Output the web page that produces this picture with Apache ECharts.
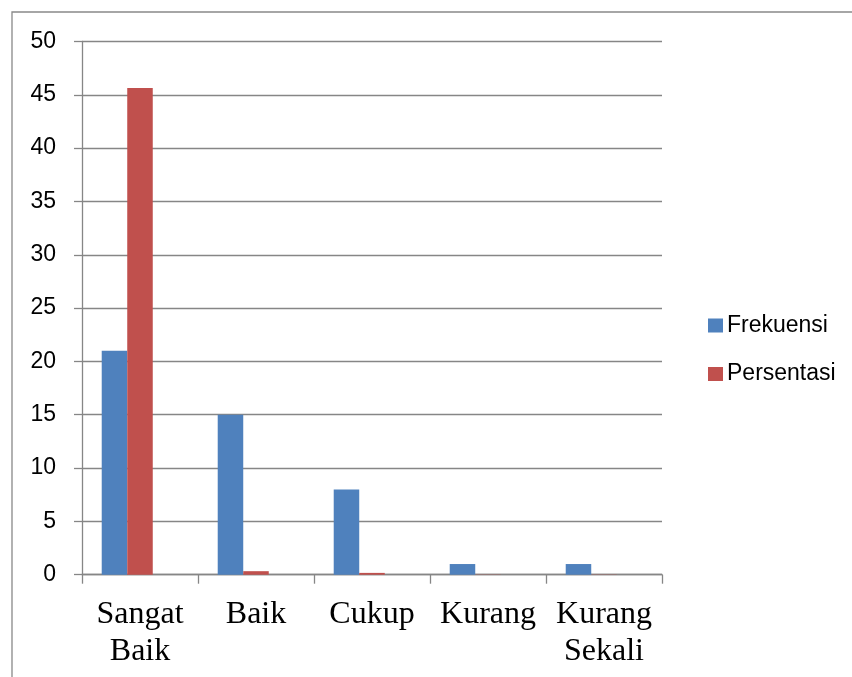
<!DOCTYPE html>
<html>
<head>
<meta charset="utf-8">
<script src="https://cdn.jsdelivr.net/npm/echarts@6/dist/echarts.min.js"></script>
<style>
html,body{margin:0;padding:0;background:#fff;}
#chart{width:852px;height:677px;}
</style>
</head>
<body>
<div id="chart"></div>
<script>
const categories = ["Sangat\nBaik", "Baik", "Cukup", "Kurang", "Kurang\nSekali"];
const frekuensi = [21, 15, 8, 1, 1];
const persentasi = [45.65, 0.33, 0.17, 0.02, 0.02];
const emptySeries = [null, null, null, null, null];
const seriesNames = ["Frekuensi", "Persentasi"];
const yMin = 0, yMax = 50, yInterval = 5;

const chart = echarts.init(document.getElementById('chart'), null, {renderer: 'canvas'});
const axisColor = '#868686';
chart.setOption({
  animation: false,
  backgroundColor: '#ffffff',
  graphic: [{
    type: 'rect', silent: true,
    shape: {x: 12, y: 12, width: 900, height: 720},
    style: {fill: 'none', stroke: '#898989', lineWidth: 1.3}
  }],
  grid: {left: 82, right: 190, top: 41.5, bottom: 102.3, containLabel: false},
  legend: {
    orient: 'vertical', left: 703, top: 309,
    itemWidth: 15, itemHeight: 14, itemGap: 25.5,
    icon: 'rect',
    data: seriesNames,
    textStyle: {fontFamily: 'Liberation Sans', fontSize: 23, color: '#000', padding: [0, 0, 0, -1]}
  },
  xAxis: {
    type: 'category', data: categories,
    axisLine: {show: true, lineStyle: {color: axisColor, width: 1.3}},
    axisTick: {show: true, length: 9, alignWithLabel: false, lineStyle: {color: axisColor, width: 1.3}},
    axisLabel: {fontFamily: 'Liberation Serif', fontSize: 32, lineHeight: 37, color: '#000', margin: 21, interval: 0}
  },
  yAxis: {
    type: 'value', min: yMin, max: yMax, interval: yInterval,
    axisLine: {show: true, lineStyle: {color: axisColor, width: 1.3}},
    axisTick: {show: true, length: 8, lineStyle: {color: axisColor, width: 1.3}},
    splitLine: {show: true, lineStyle: {color: axisColor, width: 1.3}},
    axisLabel: {fontFamily: 'Liberation Sans', fontSize: 23, color: '#000', margin: 26}
  },
  series: [
    {name: seriesNames[0], type: 'bar', data: frekuensi, itemStyle: {color: '#4F81BD'}, barGap: '0%', barCategoryGap: '34%'},
    {name: seriesNames[1], type: 'bar', data: persentasi, itemStyle: {color: '#C0504D'}, barGap: '0%', barCategoryGap: '34%'},
    {name: 'empty', type: 'bar', data: emptySeries, itemStyle: {color: '#9BBB59'}, barGap: '0%', barCategoryGap: '34%'}
  ]
});
</script>
</body>
</html>
